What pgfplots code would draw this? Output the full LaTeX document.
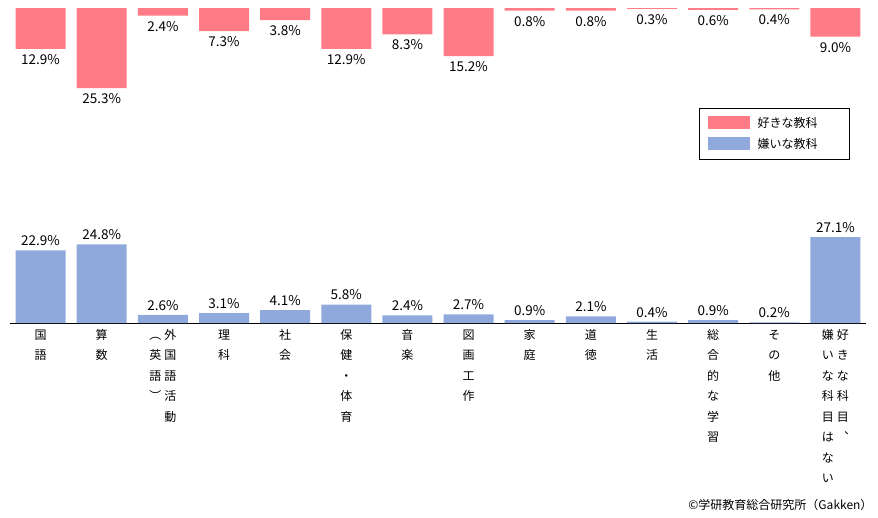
\documentclass[border=0pt]{standalone}
\usepackage{pgfplots}
\pgfplotsset{compat=1.18}
\usepackage{fontspec}
\setmainfont{Noto Sans CJK JP}
\definecolor{cr}{HTML}{FF7C86}
\definecolor{cb}{HTML}{8FA9DC}
\newcommand\vt[1]{\begin{tabular}[t]{@{}c@{}}#1\end{tabular}}
\begin{document}
\begin{tikzpicture}
\pgfplotsset{common/.style={
  scale only axis, width=856pt, height=315pt, at={(0,0)}, anchor=south west,
  xmin=-0.5, xmax=13.5, ymin=0, ymax=99.4,
  ybar, bar width=50pt,
  ytick=\empty, nodes near coords={\pgfmathprintnumber[fixed,fixed zerofill,precision=1]{\pgfplotspointmeta}\%},
  nodes near coords style={font=\fontsize{13.5}{13.5}\selectfont, text=black},
  /pgf/number format/assume math mode=true}}
\begin{axis}[common, y dir=reverse, axis lines=none,
  nodes near coords style={anchor=north, yshift=-2pt}]
\addplot[fill=cr, draw=none] coordinates {(0,12.9)(1,25.3)(2,2.4)(3,7.3)(4,3.8)(5,12.9)(6,8.3)(7,15.2)(8,0.8)(9,0.8)(10,0.3)(11,0.6)(12,0.4)(13,9.0)};
\end{axis}
\begin{axis}[common, axis x line=bottom, axis y line=none, x axis line style={-, draw=black},
  xtick={0,...,13}, xtick style={draw=none},
  nodes near coords style={yshift=1pt},
  xticklabel style={font=\fontsize{12}{20.5}\selectfont, anchor=north, yshift=4pt},
  xticklabels={{\vt{国\\語}},{\vt{算\\数}},{\vt{︵\\英\\語\\︶}\hspace{3pt}\vt{外\\国\\語\\活\\動}},{\vt{理\\科}},{\vt{社\\会}},{\vt{保\\健\\・\\体\\育}},{\vt{音\\楽}},{\vt{図\\画\\工\\作}},{\vt{家\\庭}},{\vt{道\\徳}},{\vt{生\\活}},{\vt{総\\合\\的\\な\\学\\習}},{\vt{そ\\の\\他}},{\vt{嫌\\い\\な\\科\\目\\は\\な\\い}\hspace{3pt}\vt{好\\き\\な\\科\\目\\︑}}},
  legend style={at={(0.981,0.683)}, anchor=north east, draw=black, font=\fontsize{12}{14}\selectfont, row sep=6pt, inner xsep=8pt, inner ysep=7pt},
  legend image code/.code={\fill[#1] (0pt,-6pt) rectangle (42pt,7pt);},
  legend cell align=left]
\addlegendimage{fill=cr, draw=none}
\addlegendentry{\hspace{6pt}好きな教科\rule{22pt}{0pt}}
\addplot[fill=cb, draw=none] coordinates {(0,22.9)(1,24.8)(2,2.6)(3,3.1)(4,4.1)(5,5.8)(6,2.4)(7,2.7)(8,0.9)(9,2.1)(10,0.4)(11,0.9)(12,0.2)(13,27.1)};
\addlegendentry{\hspace{6pt}嫌いな教科\rule{22pt}{0pt}}
\end{axis}
\node[anchor=south east, font=\fontsize{12}{12}\selectfont] at (866pt,-191pt) {©学研教育総合研究所（Gakken）};
\useasboundingbox (-10pt,-194pt) rectangle (868pt,323pt);
\end{tikzpicture}
\end{document}
